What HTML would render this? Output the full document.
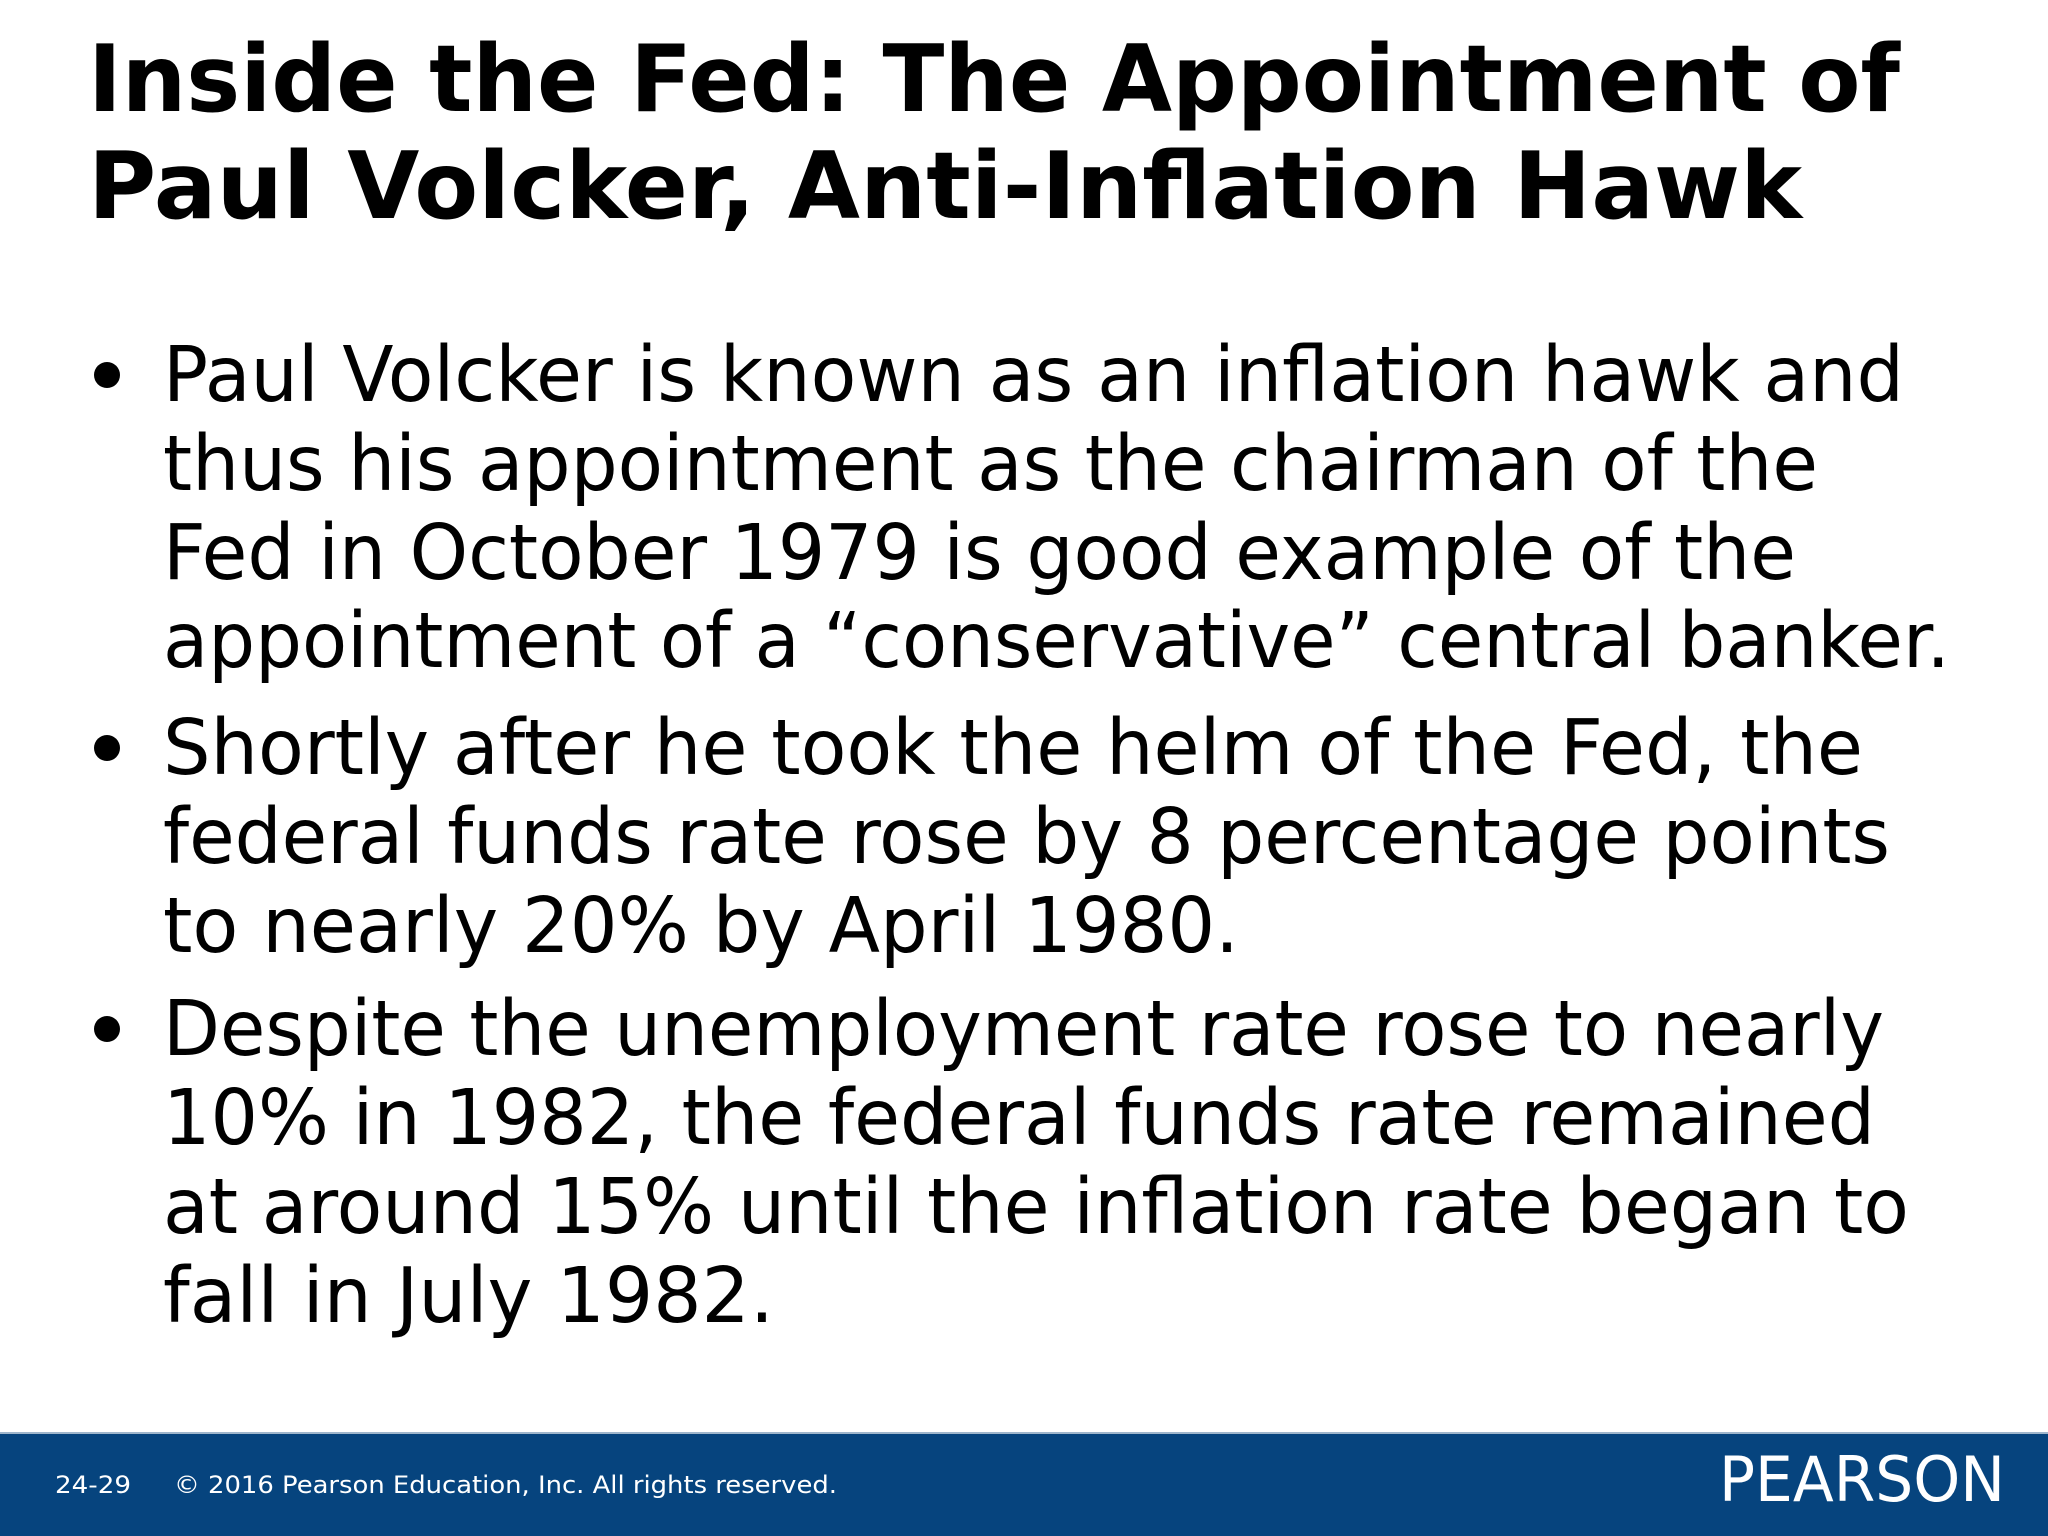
<!DOCTYPE html>
<html><head><meta charset="utf-8"><style>
html,body{margin:0;padding:0;background:#fff;}
svg{display:block;}
</style></head><body>
<svg width="2048" height="1536" viewBox="0 0 2048 1536" xmlns="http://www.w3.org/2000/svg" font-family="'DejaVu Sans','Liberation Sans',sans-serif">
<rect x="0" y="0" width="2048" height="1536" fill="#ffffff"/>
<g font-weight="bold" font-size="93" fill="#000">
<text x="88" y="111" textLength="1812" lengthAdjust="spacingAndGlyphs">Inside the Fed: The Appointment of</text>
<text x="88" y="218" textLength="1714" lengthAdjust="spacingAndGlyphs">Paul Volcker, Anti-Inflation Hawk</text>
</g>
<g font-size="77" fill="#000">
<circle cx="107" cy="375" r="13"/>
<circle cx="107" cy="748" r="13"/>
<circle cx="107" cy="1029" r="13"/>
<text x="163" y="401" textLength="1741" lengthAdjust="spacingAndGlyphs">Paul Volcker is known as an inflation hawk and</text>
<text x="163" y="490" textLength="1655" lengthAdjust="spacingAndGlyphs">thus his appointment as the chairman of the</text>
<text x="163" y="579" textLength="1633" lengthAdjust="spacingAndGlyphs">Fed in October 1979 is good example of the</text>
<text x="163" y="667" textLength="1787" lengthAdjust="spacingAndGlyphs">appointment of a “conservative” central banker.</text>
<text x="163" y="774" textLength="1700" lengthAdjust="spacingAndGlyphs">Shortly after he took the helm of the Fed, the</text>
<text x="163" y="863" textLength="1727" lengthAdjust="spacingAndGlyphs">federal funds rate rose by 8 percentage points</text>
<text x="163" y="952" textLength="1076" lengthAdjust="spacingAndGlyphs">to nearly 20% by April 1980.</text>
<text x="163" y="1055" textLength="1721" lengthAdjust="spacingAndGlyphs">Despite the unemployment rate rose to nearly</text>
<text x="163" y="1144" textLength="1712" lengthAdjust="spacingAndGlyphs">10% in 1982, the federal funds rate remained</text>
<text x="163" y="1233" textLength="1746" lengthAdjust="spacingAndGlyphs">at around 15% until the inflation rate began to</text>
<text x="163" y="1322" textLength="611" lengthAdjust="spacingAndGlyphs">fall in July 1982.</text>
</g>
<rect x="0" y="1432" width="2048" height="2" fill="#9fb6cc"/>
<rect x="0" y="1434" width="2048" height="102" fill="#06447e"/>
<text x="55" y="1493" font-size="24" fill="#fff" textLength="76" lengthAdjust="spacingAndGlyphs">24-29</text>
<text x="174" y="1493" font-size="24" fill="#fff" textLength="663" lengthAdjust="spacingAndGlyphs">© 2016 Pearson Education, Inc. All rights reserved.</text>
<text x="1719" y="1501" font-size="62" fill="#fff" textLength="286" lengthAdjust="spacingAndGlyphs">PEARSON</text>
</svg>
</body></html>
